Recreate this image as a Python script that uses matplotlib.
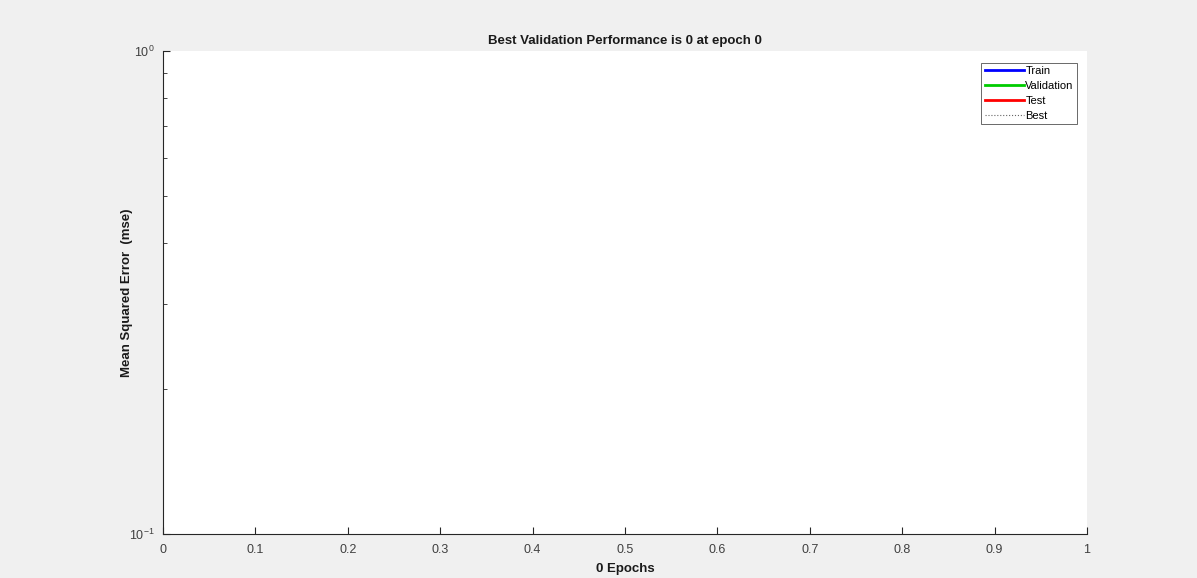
import matplotlib
matplotlib.use("Agg")
import matplotlib.pyplot as plt
from matplotlib.ticker import FixedLocator, NullFormatter, FixedFormatter

# training record is empty: no epochs were run
epochs = []
train_perf = []
val_perf = []
test_perf = []
best_epoch = 0
best_perf = 0

x_ticks = [0, 0.1, 0.2, 0.3, 0.4, 0.5, 0.6, 0.7, 0.8, 0.9, 1]
x_tick_labels = ["0", "0.1", "0.2", "0.3", "0.4", "0.5", "0.6", "0.7", "0.8", "0.9", "1"]

plt.rcParams['font.family'] = ['Liberation Sans', 'DejaVu Sans']

fig = plt.figure(figsize=(11.97, 5.78), dpi=100, facecolor="#f0f0f0")
ax = fig.add_axes([0.1362, 0.0761, 0.7719, 0.8357])
ax.set_facecolor("white")

ax.semilogy(epochs, train_perf, color="#0000ff", lw=2, label="Train")
ax.semilogy(epochs, val_perf, color="#00cc00", lw=2, label="Validation")
ax.semilogy(epochs, test_perf, color="#ff0000", lw=2, label="Test")
ax.semilogy([], [], color="#666666", lw=0.8, ls=":", label="Best")

ax.set_xlim(0, 1)
ax.set_ylim(0.1, 1)
ax.xaxis.set_major_locator(FixedLocator(x_ticks))
ax.xaxis.set_major_formatter(FixedFormatter(x_tick_labels))
ax.yaxis.set_minor_formatter(NullFormatter())

for s in ["top", "right"]:
    ax.spines[s].set_visible(False)
for s in ["left", "bottom"]:
    ax.spines[s].set_color("#262626")
    ax.spines[s].set_linewidth(0.8)

ax.tick_params(which="both", direction="in", colors="#262626", labelcolor="#404040", labelsize=9)
ax.tick_params(which="major", length=5)
ax.tick_params(which="minor", length=3)
ax.tick_params(axis="x", pad=7)
ax.tick_params(axis="y", pad=6)

ax.set_title("Best Validation Performance is %g at epoch %d" % (best_perf, best_epoch),
             fontsize=9.5, fontweight="bold", color="#1a1a1a", pad=5)
ax.set_xlabel("%d Epochs" % len(epochs), fontsize=9.5, fontweight="bold", color="#1a1a1a", labelpad=5)
ax.set_ylabel("Mean Squared Error  (mse)", fontsize=9.5, fontweight="bold", color="#1a1a1a")
ax.yaxis.set_label_coords(-0.032, 0.5)

leg = ax.legend(loc="upper right", fontsize=8, frameon=True, fancybox=False,
                handlelength=3.5, handletextpad=0.15, labelspacing=0.45,
                borderpad=0.3, borderaxespad=0, bbox_to_anchor=(0.9892, 0.976))
leg.get_frame().set_edgecolor("#262626")
leg.get_frame().set_linewidth(0.6)

fig.savefig("out.png", dpi=100, facecolor=fig.get_facecolor())
